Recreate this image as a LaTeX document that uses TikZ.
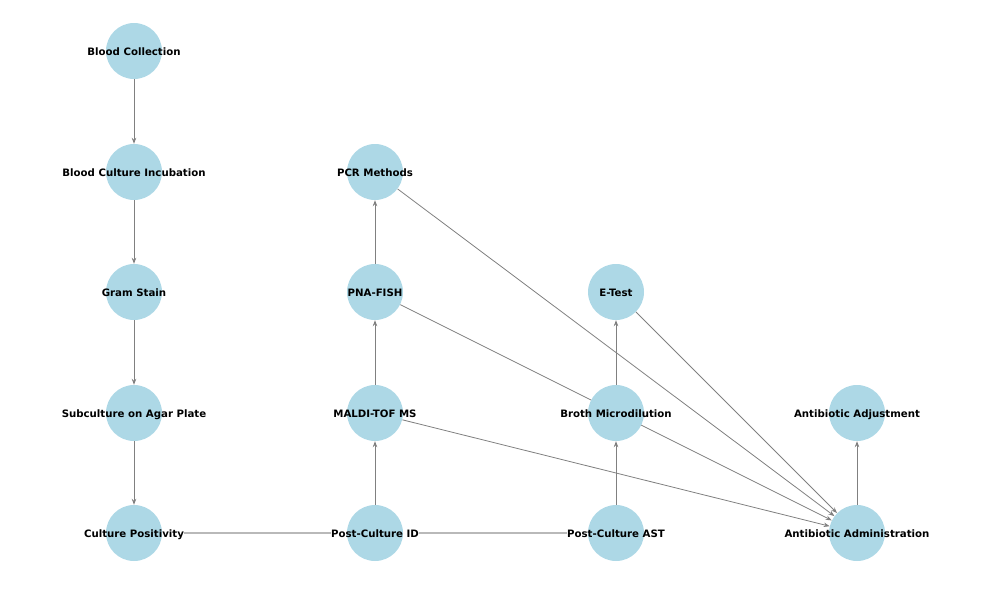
\documentclass[tikz,border=0pt]{standalone}
\usepackage{fontspec}
\setmainfont{DejaVu Sans}
\usetikzlibrary{arrows.meta}
\pgfdeclarelayer{bg}
\pgfsetlayers{bg,main}
\begin{document}
\begin{tikzpicture}[x=1pt,y=-1pt,
  circ/.style={circle,fill={rgb,255:red,173;green,216;blue,230},minimum size=56pt,inner sep=0pt},
  lbl/.style={font=\bfseries\fontsize{10.2}{12}\selectfont,inner sep=0pt,text=black,text height=0.76em,text depth=0.24em,yshift=-1.5pt},
  edge/.style={draw={rgb,255:red,128;green,128;blue,128},line width=0.8pt,-{Stealth[length=6pt,width=4.5pt]}},
  plain/.style={draw={rgb,255:red,185;green,185;blue,185},line width=1.3pt}]
\useasboundingbox (0,0) rectangle (987,597);
\foreach \n/\x/\y/\t in {
  bc/134/51/Blood Collection,
  bci/134/172/Blood Culture Incubation,
  gs/134/292/Gram Stain,
  sub/134/413/Subculture on Agar Plate,
  cp/134/533/Culture Positivity,
  pcr/375/172/PCR Methods,
  pna/375/292/PNA-FISH,
  mal/375/413/MALDI-TOF MS,
  pid/375/533/Post-Culture ID,
  et/616/292/E-Test,
  bm/616/413/Broth Microdilution,
  ast/616/533/Post-Culture AST,
  adj/857/413/Antibiotic Adjustment,
  aa/857/533/Antibiotic Administration}{
  \node[circ] (\n) at (\x,\y) {};
  \node[lbl] (\n L) at (\x,\y) {\t};
}
\begin{pgfonlayer}{bg}
\draw[edge] (bc) -- (bci);
\draw[edge] (bci) -- (gs);
\draw[edge] (gs) -- (sub);
\draw[edge] (sub) -- (cp);
\draw[edge] (pid) -- (mal);
\draw[edge] (mal) -- (pna);
\draw[edge] (pna) -- (pcr);
\draw[edge] (ast) -- (bm);
\draw[edge] (bm) -- (et);
\draw[edge] (aa) -- (adj);
\draw[edge] (pcr) -- (aa);
\draw[edge] (et) -- (aa);
\draw[edge] (pna) -- (aa);
\draw[edge] (mal) -- (aa);
\end{pgfonlayer}
\draw[plain] (cp.center -| cpL.east) -- (pid.center -| pidL.west);
\draw[plain] (pid.center -| pidL.east) -- (ast.center -| astL.west);
\end{tikzpicture}
\end{document}
